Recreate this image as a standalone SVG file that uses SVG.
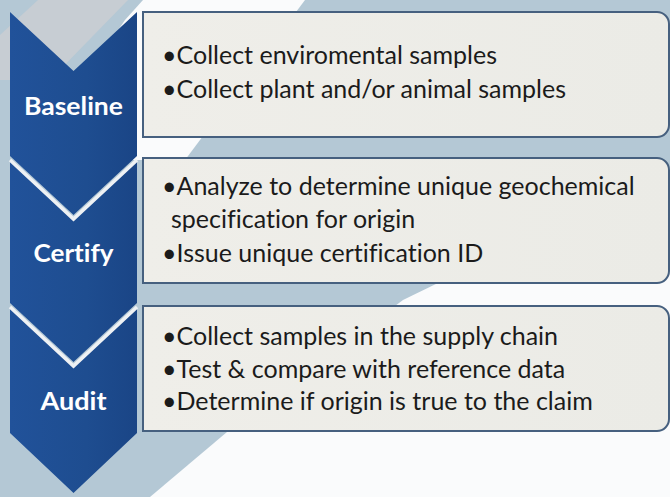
<svg xmlns="http://www.w3.org/2000/svg" width="670" height="497" viewBox="0 0 670 497">
  <defs>
    <linearGradient id="chev" x1="0" y1="0" x2="1" y2="0">
      <stop offset="0" stop-color="#21529a"/>
      <stop offset="0.6" stop-color="#1e4d90"/>
      <stop offset="1" stop-color="#1a4586"/>
    </linearGradient>
    <linearGradient id="box" x1="0" y1="0" x2="1" y2="0">
      <stop offset="0" stop-color="#efeee9"/>
      <stop offset="1" stop-color="#ebebe6"/>
    </linearGradient>
    <style>
      .chev { fill: url(#chev); }
      .edge { fill: none; stroke: #eef1f4; stroke-width: 3.5; stroke-linejoin: miter; }
      .box { fill: url(#box); stroke: #46607f; stroke-width: 2; }
      .lbl { font-family: Lato, "Liberation Sans", sans-serif; font-weight: bold; font-size: 24px; fill: #ffffff; text-anchor: middle; font-variant-ligatures: none; }
      .txt { font-family: Lato, "Liberation Sans", sans-serif; font-size: 25px; fill: #1b1b1b; font-variant-ligatures: none; }
    </style>
  </defs>

  <!-- background -->
  <g id="background">
    <rect x="0" y="0" width="670" height="497" fill="#b4c8d5"/>
    <polygon points="38,0 128,0 50,80 0,80 0,35" fill="#c7cdd3"/>
    <polygon points="143,0 305,0 185,160 30,160 125,20" fill="#fafbfc"/>
    <polygon points="150,497 227,432 403,300 440,282 670,220 670,497" fill="#fafbfc"/>
  </g>

  <!-- chevrons -->
  <g id="step-baseline">
    <polygon class="chev" points="10,12 73.5,71 137,12 137,156 73.5,215 10,156"/>
    <text class="lbl" x="73.5" y="115" textLength="99" lengthAdjust="spacingAndGlyphs">Baseline</text>
  </g>
  <g id="step-certify">
    <polygon class="chev" points="10,160 73.5,219 137,160 137,303 73.5,362 10,303"/>
    <polyline class="edge" points="10,160 73.5,219 137,160"/>
    <text class="lbl" x="73.5" y="262" textLength="80" lengthAdjust="spacingAndGlyphs">Certify</text>
  </g>
  <g id="step-audit">
    <polygon class="chev" points="10,307 73.5,366 137,307 137,433 73.5,493 10,433"/>
    <polyline class="edge" points="10,307 73.5,366 137,307"/>
    <text class="lbl" x="73.5" y="410" textLength="66" lengthAdjust="spacingAndGlyphs">Audit</text>
  </g>

  <!-- text boxes -->
  <g id="box-baseline">
    <path class="box" d="M143,12 H657 A12,12 0 0 1 669,24 V125 A12,12 0 0 1 657,137 H143 Z"/>
    <text class="txt" x="162" y="64">•Collect enviromental samples</text>
    <text class="txt" x="162" y="98">•Collect plant and/or animal samples</text>
  </g>
  <g id="box-certify">
    <path class="box" d="M143,158 H657 A12,12 0 0 1 669,170 V271 A12,12 0 0 1 657,283 H143 Z"/>
    <text class="txt" x="162" y="195">•Analyze to determine unique geochemical</text>
    <text class="txt" x="171" y="228">specification for origin</text>
    <text class="txt" x="162" y="262">•Issue unique certification ID</text>
  </g>
  <g id="box-audit">
    <path class="box" d="M143,306 H657 A12,12 0 0 1 669,318 V419 A12,12 0 0 1 657,431 H143 Z"/>
    <text class="txt" x="162" y="345">•Collect samples in the supply chain</text>
    <text class="txt" x="162" y="378">•Test &amp; compare with reference data</text>
    <text class="txt" x="162" y="410">•Determine if origin is true to the claim</text>
  </g>

  <g id="connectors"/>
</svg>
